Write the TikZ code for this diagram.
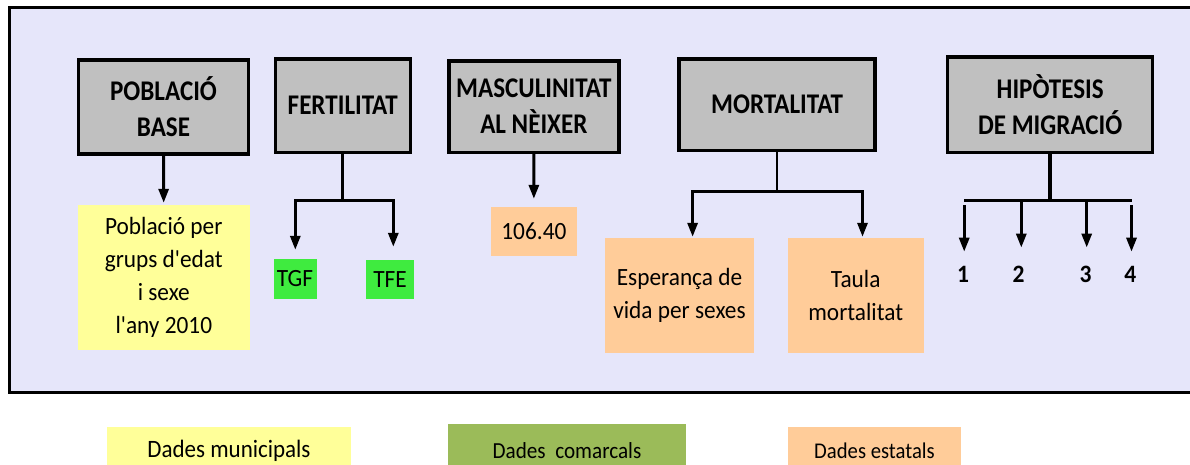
\documentclass[tikz,border=0pt]{standalone}
\usepackage{fontspec}
\setmainfont{Carlito}[Ligatures=TeXOff,FakeStretch=0.94]
\newfontfamily\titolfont{Carlito}[Ligatures=TeXOff,FakeStretch=0.88]
\newfontfamily\llegfont{Carlito}[Ligatures=TeXOff,FakeStretch=0.92]
\usetikzlibrary{arrows.meta}
\definecolor{fons}{HTML}{E6E6FA}
\definecolor{gris}{HTML}{C0C0C0}
\definecolor{groc}{HTML}{FFFF99}
\definecolor{verd}{HTML}{3FEB3F}
\definecolor{salmo}{HTML}{FFCC99}
\definecolor{oliva}{HTML}{9BBB59}

\begin{document}
\begin{tikzpicture}[x=1pt,y=-1pt,
		caixa/.style={draw,line width=3.5pt,fill=gris,inner sep=0pt,align=center,font=\titolfont\fontsize{28.5}{36}\selectfont\bfseries},
		dada/.style={inner sep=0pt,align=center,font=\fontsize{24.8}{33}\selectfont},
		num/.style={inner sep=0pt,font=\fontsize{25}{25}\selectfont\bfseries},
		llegenda/.style={inner sep=0pt,font=\llegfont\fontsize{25}{26}\selectfont},
		linia/.style={line width=3pt},
		fletxa/.style={line width=3pt,-{Triangle[length=14pt,width=10pt]}},
		doble/.style={line width=3pt,{Triangle[length=14pt,width=10pt]}-{Triangle[length=14pt,width=10pt]}}]
		\useasboundingbox (0,0) rectangle (1190,464);
		\clip (0,0) rectangle (1190,464);
		\draw[line width=3pt,fill=fons] (9.5,7.5) rectangle (1200,392);
		% capcaleres
		\node[caixa,minimum width=170pt,minimum height=94pt] (pob) at (163.5,107) {POBLACIÓ\\BASE};
		\node[caixa,minimum width=135pt,minimum height=93.5pt] (fert) at (342.8,105.5) {FERTILITAT};
		\node[caixa,minimum width=170pt,minimum height=91.5pt] (masc) at (533.8,106.5) {MASCULINITAT\\AL NÈIXER};
		\node[caixa,minimum width=196pt,minimum height=91.5pt] (mort) at (777.1,104.5) {MORTALITAT};
		\node[caixa,minimum width=205pt,minimum height=95.5pt] (hip) at (1050.2,104.5) {HIPÒTESIS\\DE MIGRACIÓ};
		% dades
		\node[dada,fill=groc,minimum width=172pt,minimum height=145pt] (pobdada) at (163.8,277.5) {Població per\\grups d'edat\\i sexe\\l'any 2010};
		\node[dada,fill=verd,minimum width=43pt,minimum height=40pt] (tgf) at (295,279) {TGF};
		\node[dada,fill=verd,minimum width=48.6pt,minimum height=39pt] (tfe) at (390,279.5) {TFE};
		\node[dada,fill=salmo,minimum width=85.7pt,minimum height=49pt] (mascdada) at (533.9,231.5) {106.40};
		\node[dada,fill=salmo,minimum width=148.5pt,minimum height=115pt] (esp) at (679.5,295.5) {Esperança de\\vida per sexes};
		\node[dada,fill=salmo,minimum width=136pt,minimum height=115pt] (taula) at (855.7,295.5) {Taula\\mortalitat};
		\node[num] (n1) at (963,274) {1};
		\node[num] (n2) at (1018.6,274) {2};
		\node[num] (n3) at (1085.5,274) {3};
		\node[num] (n4) at (1130.3,274) {4};
		% fletxes
		\draw[fletxa,shorten >=2pt] (pob) -- (pobdada);
		\draw[fletxa,shorten >=8pt] (masc) -- (mascdada);
		\coordinate (fe) at (295.3,200);
		\coordinate (fd) at (393.3,200);
		\draw[linia] (fert.south) -- (fert.south |- fe);
		\draw[doble,shorten <=9pt,shorten >=13pt] (fe |- tgf.north) -- (fe) -- (fd) -- (fd |- tfe.north);
		\coordinate (me) at (692.6,191);
		\coordinate (md) at (862.5,191);
		\draw[line width=2pt] (mort.south) -- (mort.south |- me);
		\draw[doble,shorten <=1pt,shorten >=1pt] (me |- esp.north) -- (me) -- (md) -- (md |- taula.north);
		\coordinate (h1) at (964.2,200);
		\coordinate (h2) at (1021.3,200);
		\coordinate (h3) at (1086.7,200);
		\coordinate (h4) at (1131.5,200);
		\draw[line width=4pt] (hip.south) -- (hip.south |- h1);
		\draw[linia] (h1) -- (h4);
		\draw[fletxa,shorten <=5pt,shorten >=14pt] (h1) -- (h1 |- n1.north);
		\draw[fletxa,shorten >=18pt] (h2) -- (h2 |- n2.north);
		\draw[fletxa,shorten >=18pt] (h3) -- (h3 |- n3.north);
		\draw[fletxa,shorten <=5pt,shorten >=14pt] (h4) -- (h4 |- n4.north);
		% llegenda
		\node[llegenda,fill=groc,minimum width=244pt,minimum height=48pt] (lmun) at (229,451) {Dades municipals};
		\node[llegenda,fill=oliva,minimum width=238pt,minimum height=54pt,font=\llegfont\fontsize{23}{26}\selectfont] (lcom) at (567,451) {Dades\ \ comarcals};
		\node[llegenda,fill=salmo,minimum width=173pt,minimum height=48pt,font=\llegfont\fontsize{22.5}{26}\selectfont] (lest) at (874.5,451) {Dades estatals};
	\end{tikzpicture}
\end{document}
